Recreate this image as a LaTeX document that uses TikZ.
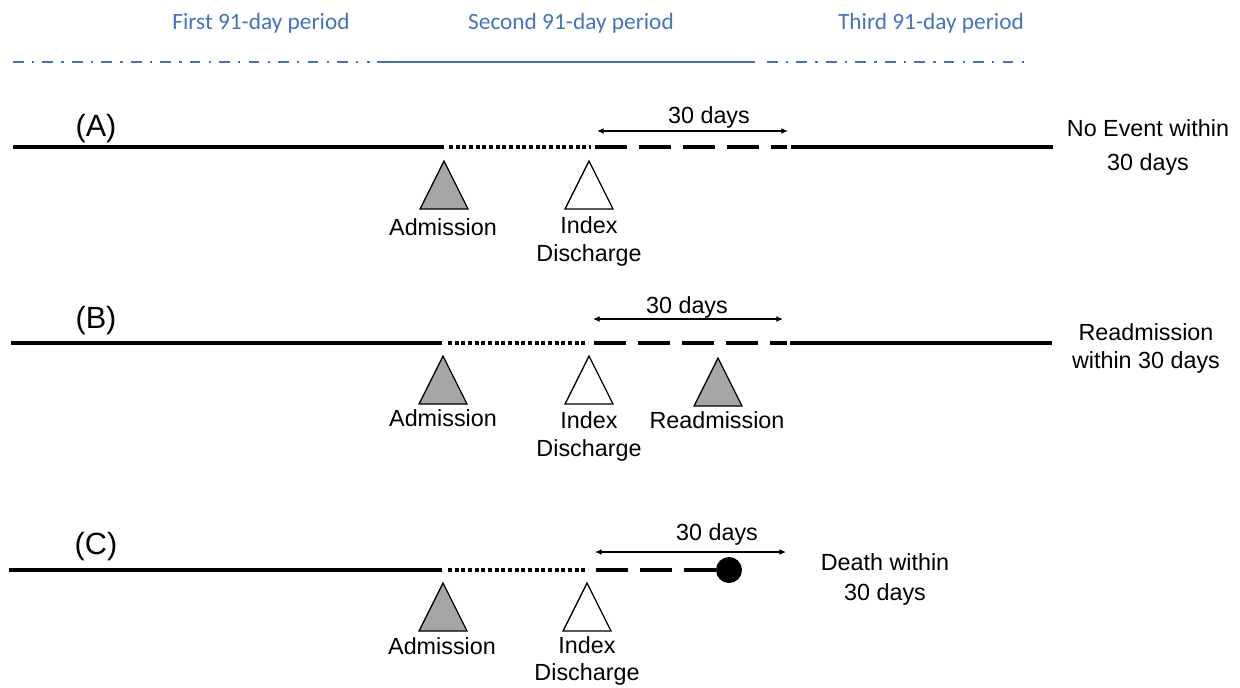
\documentclass[tikz,border=0pt]{standalone}
\usepackage{fontspec}
\setmainfont{Liberation Sans}
\newfontfamily\periodfont{Carlito}
\usepackage{tikz}
\usetikzlibrary{arrows.meta}
\definecolor{periodblue}{RGB}{68,114,196}
\definecolor{admgray}{RGB}{166,166,166}

\begin{document}
\begin{tikzpicture}[x=0.75pt,y=0.75pt,yscale=-1,xscale=1,
  every node/.style={inner sep=0pt,font=\fontsize{17.5}{20.5}\selectfont},
  lbl/.style={anchor=base},
  twoline/.style={anchor=center,align=center},
  tag/.style={anchor=base,font=\fontsize{23}{26}\selectfont},
  period/.style={anchor=base,text=periodblue,font=\periodfont\fontsize{17.5}{20}\selectfont},
  axis/.style={line width=3pt},
  gap/.style={line width=3pt,dash pattern=on 3pt off 2pt},
  window/.style={line width=3pt,dash pattern=on 24pt off 9pt},
  span/.style={line width=1pt,{Latex[length=5pt,width=4.5pt]}-{Latex[length=5pt,width=4.5pt]}},
  admtri/.style={draw,line width=1pt,fill=admgray},
  distri/.style={draw,line width=1pt,fill=white},
  dashdot/.style={periodblue,line width=2pt,dash pattern=on 8pt off 6.2pt on 1.7pt off 6.2pt}]
\useasboundingbox (0,0) rectangle (1240,687);

\node[period] (first) at (261,29) {First 91-day period};
\node[period] (second) at (571,29) {Second 91-day period};
\node[period] (third) at (931,29) {Third 91-day period};
\draw[dashdot] (13,62) -- (370,62);
\draw[periodblue,line width=2pt] (377,62) -- (755,62);
\draw[dashdot] (767,62) -- (1025,62);

\node[tag] (tagA) at (96,136) {(A)};
\draw[axis] (13,147) -- (444,147);
\draw[gap] (449,147) -- (591,147);
\draw[window] (595,147) -- (787,147);
\draw[axis] (791,147) -- (1053,147);
\coordinate (spanAl) at (597,131);
\coordinate (spanAr) at (788,131);
\draw[span] (spanAl) -- (spanAr);
\node[lbl] (daysA) at (709,123) {30 days};
\draw[admtri] (444,161) -- (468,209) -- (420,209) -- cycle;
\draw[distri] (589,161) -- (613,209) -- (565,209) -- cycle;
\node[lbl] (admA) at (443,235) {Admission};
\node[twoline] (disA) at (589,241.5) {Index\\Discharge};
\node[twoline,font=\fontsize{17.5}{25.5}\selectfont] (outA) at (1148,147) {No Event within\\30 days};

\node[tag] (tagB) at (96,328) {(B)};
\draw[axis] (11,343) -- (442,343);
\draw[gap] (448,343) -- (588,343);
\draw[window] (594,343) -- (787,343);
\draw[axis] (790,343) -- (1052,343);
\coordinate (spanBl) at (593,319);
\coordinate (spanBr) at (783,319);
\draw[span] (spanBl) -- (spanBr);
\node[lbl] (daysB) at (687,313) {30 days};
\draw[admtri] (443,356) -- (467,404) -- (419,404) -- cycle;
\draw[distri] (589,356) -- (613,404) -- (565,404) -- cycle;
\draw[admtri] (718,358) -- (742,406) -- (694,406) -- cycle;
\node[lbl] (admB) at (443,426) {Admission};
\node[twoline] (disB) at (589,436.5) {Index\\Discharge};
\node[lbl] (readB) at (717,428) {Readmission};
\node[twoline,font=\fontsize{17.5}{21}\selectfont] (outB) at (1146,348) {Readmission\\within 30 days};

\node[tag] (tagC) at (96,554) {(C)};
\draw[axis] (9,570) -- (442,570);
\draw[gap] (448,570) -- (588,570);
\draw[window] (596,570) -- (729,570);
\fill (729,570) circle (13);
\coordinate (spanCl) at (595,552);
\coordinate (spanCr) at (786,552);
\draw[span] (spanCl) -- (spanCr);
\node[lbl] (daysC) at (717,540) {30 days};
\draw[admtri] (443,583) -- (467,631) -- (419,631) -- cycle;
\draw[distri] (587,583) -- (611,631) -- (563,631) -- cycle;
\node[lbl] (admC) at (442,654) {Admission};
\node[twoline] (disC) at (587,661) {Index\\Discharge};
\node[twoline,font=\fontsize{17.5}{22.5}\selectfont] (outC) at (885,579) {Death within\\30 days};
\end{tikzpicture}
\end{document}
